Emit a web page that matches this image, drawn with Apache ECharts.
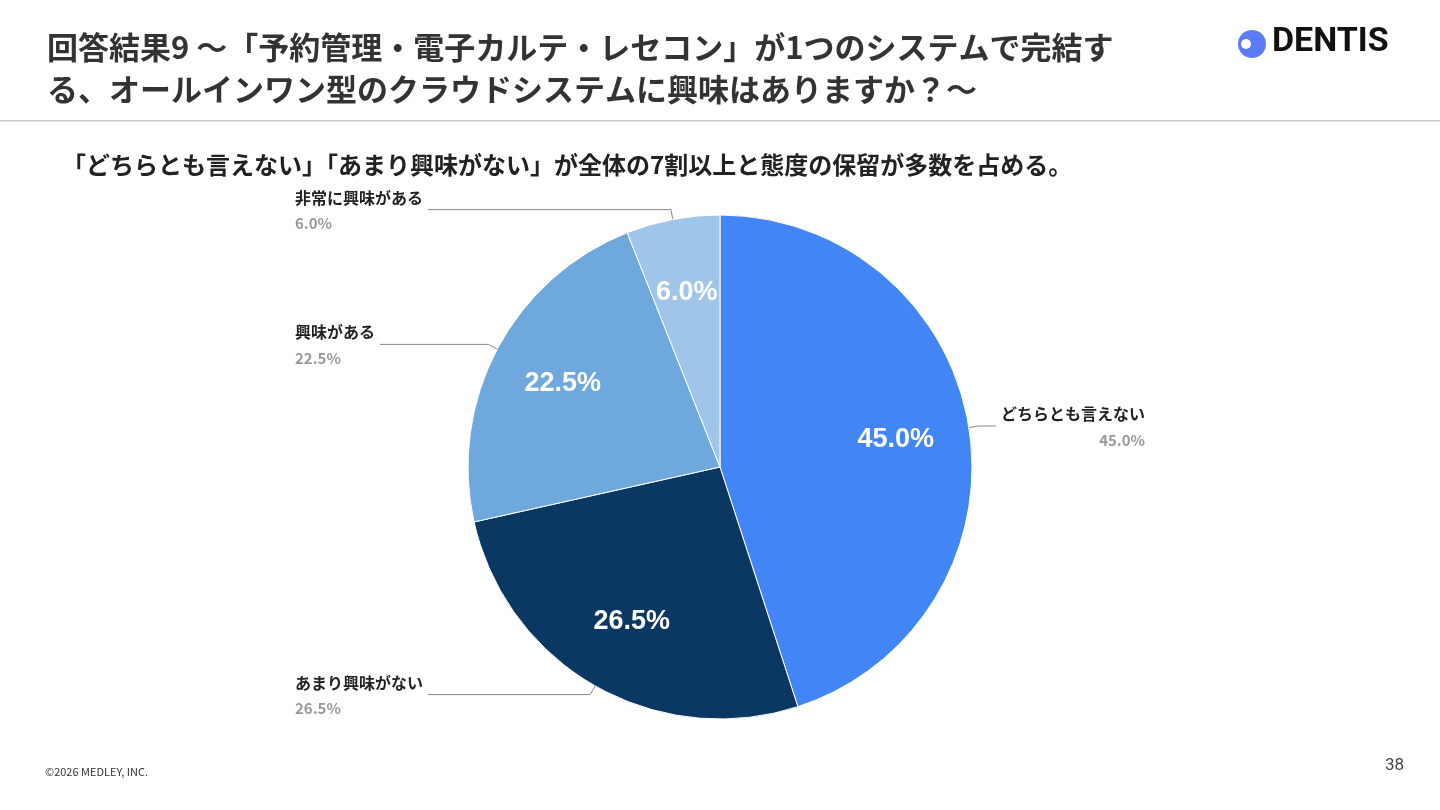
<!DOCTYPE html>
<html>
<head>
<meta charset="utf-8">
<script src="https://cdn.jsdelivr.net/npm/echarts@6/dist/echarts.min.js"></script>
<style>
html,body{margin:0;padding:0;background:#fff;}
#chart{width:1440px;height:810px;}
</style>
</head>
<body>
<div id="chart"></div>
<script>
// 回答の内訳（時計回り、上から）
const categories = ['どちらとも言えない', 'あまり興味がない', '興味がある', '非常に興味がある'];
const values = [45.0, 26.5, 22.5, 6.0];
const colors = ['#4285F4', '#0B3763', '#6FA8DC', '#9FC5E8'];

const FONT = '"Noto Sans CJK JP", "Noto Sans", sans-serif';
const pieData = categories.map((c, i) => ({ name: c, value: values[i], itemStyle: { color: colors[i] } }));

let myChart = echarts.init(document.getElementById('chart'));
const option = {
	animation: false,
	textStyle: { fontFamily: FONT },
	graphic: [
		{ type: 'text', left: 47, top: 26, style: { text: '回答結果9 〜「予約管理・電子カルテ・レセコン」が1つのシステムで完結す\nる、オールインワン型のクラウドシステムに興味はありますか？〜', fontSize: 31, fontWeight: 'bold', fill: '#333', lineHeight: 42, fontFamily: FONT } },
		{ type: 'rect', shape: { x: 0, y: 120, width: 1440, height: 1.5 }, style: { fill: '#ccc' } },
		{ type: 'text', left: 62, top: 153, style: { text: '「どちらとも言えない」「あまり興味がない」が全体の7割以上と態度の保留が多数を占める。', fontSize: 24, fontWeight: 'bold', fill: '#222', fontFamily: FONT } },
		{ type: 'circle', shape: { cx: 1252, cy: 44, r: 14 }, style: { fill: '#5B7CF5' } },
		{ type: 'circle', shape: { cx: 1246, cy: 44, r: 5 }, style: { fill: '#fff' } },
		{ type: 'text', left: 1272, top: 25, style: { text: 'DENTIS', fontSize: 34, fontWeight: 'bold', fill: '#111', fontFamily: 'Roboto, sans-serif' } },
		{ type: 'text', left: 45, top: 766, style: { text: '©2026 MEDLEY, INC.', fontSize: 11, fill: '#333', fontFamily: FONT } },
		{ type: 'text', left: 1385, top: 757, style: { text: '38', fontSize: 17, fill: '#444', fontFamily: 'Roboto, sans-serif' } }
	],
	series: [
		{
			type: 'pie',
			center: [720, 467],
			radius: [0, 252],
			startAngle: 90,
			clockwise: true,
			data: pieData,
			itemStyle: { borderColor: '#fff', borderWidth: 1 },
			label: {
				show: true,
				position: 'outside',
				alignTo: 'edge',
				edgeDistance: 295,
				formatter: p => '{a|' + p.name + '}\n{b|' + p.value.toFixed(1) + '%}',
				rich: {
					a: { fontSize: 16, fontWeight: 'bold', color: '#222', lineHeight: 28, fontFamily: FONT },
					b: { fontSize: 15, fontWeight: 'bold', color: '#999', lineHeight: 24, fontFamily: FONT }
				}
			},
			labelLine: { show: true, length: 10, length2: 10, lineStyle: { color: '#888', width: 1 } }
		},
		{
			type: 'pie',
			center: [720, 467],
			radius: [0, 350],
			startAngle: 90,
			silent: true,
			z: 3,
			data: pieData.map(d => ({ name: d.name, value: d.value, itemStyle: { color: 'rgba(0,0,0,0)' } })),
			label: {
				show: true,
				position: 'inside',
				formatter: p => p.value.toFixed(1) + '%',
				fontSize: 27,
				fontWeight: 'bold',
				color: '#fff',
				fontFamily: 'Liberation Sans, Arial, sans-serif'
			},
			labelLine: { show: false }
		}
	]
};
myChart.setOption(option);
</script>
</body>
</html>
